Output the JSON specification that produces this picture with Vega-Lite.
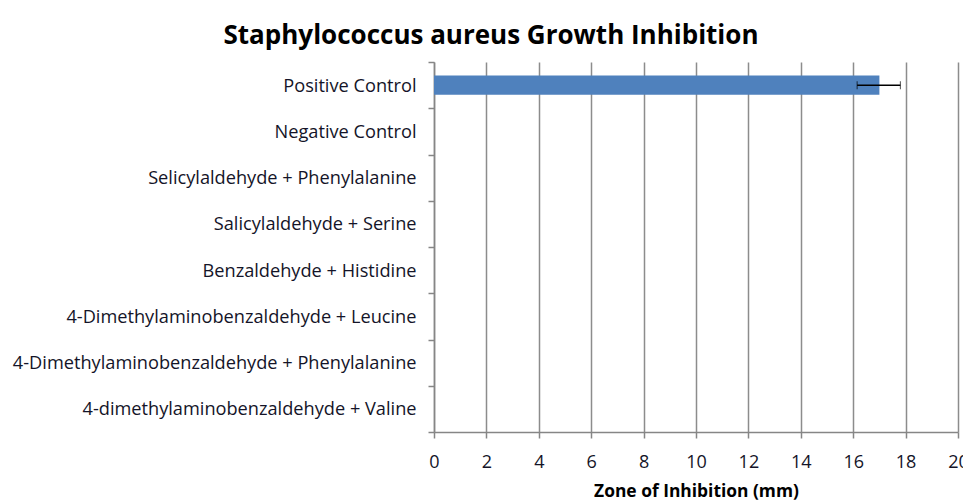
{
  "$schema": "https://vega.github.io/schema/vega-lite/v6.json",
  "autosize": "none",
  "width": 524,
  "height": 370,
  "padding": {"left": 434, "top": 62, "right": 5, "bottom": 69},
  "background": "white",
  "title": {
    "text": "Staphylococcus aureus Growth Inhibition",
    "fontSize": 26,
    "font": "Open Sans",
    "fontWeight": "bold",
    "color": "#000000",
    "anchor": "middle",
    "dx": -205,
    "offset": 3
  },
  "data": {
    "values": [
      {"compound": "Positive Control", "zone": 17, "lo": 16.15, "hi": 17.8},
      {"compound": "Negative Control", "zone": 0, "lo": null, "hi": null},
      {"compound": "Selicylaldehyde + Phenylalanine", "zone": 0, "lo": null, "hi": null},
      {"compound": "Salicylaldehyde + Serine", "zone": 0, "lo": null, "hi": null},
      {"compound": "Benzaldehyde + Histidine", "zone": 0, "lo": null, "hi": null},
      {"compound": "4-Dimethylaminobenzaldehyde + Leucine", "zone": 0, "lo": null, "hi": null},
      {"compound": "4-Dimethylaminobenzaldehyde + Phenylalanine", "zone": 0, "lo": null, "hi": null},
      {"compound": "4-dimethylaminobenzaldehyde + Valine", "zone": 0, "lo": null, "hi": null}
    ]
  },
  "encoding": {
    "y": {
      "field": "compound",
      "type": "nominal",
      "sort": null,
      "scale": {"paddingInner": 0, "paddingOuter": 0},
      "axis": {
        "title": null,
        "labelFont": "Open Sans",
        "labelFontSize": 18.2,
        "labelColor": "#141428",
        "labelPadding": 12,
        "labelLimit": 500,
        "labelOffset": 1,
        "tickBand": "extent",
        "tickSize": 6,
        "tickColor": "#868686",
        "domainColor": "#868686",
        "domainWidth": 1.5,
        "tickWidth": 1.5,
        "grid": false
      }
    }
  },
  "layer": [
    {
      "mark": {"type": "bar", "color": "#4F81BD", "height": {"band": 0.42}},
      "encoding": {
        "x": {
          "field": "zone",
          "type": "quantitative",
          "scale": {"domain": [0, 20], "nice": false},
          "axis": {
            "title": "Zone of Inhibition (mm)",
            "titleFont": "Open Sans",
            "titleFontSize": 17.4,
            "titleFontWeight": "bold",
            "titleColor": "#000000",
            "titlePadding": 11,
            "values": [0, 2, 4, 6, 8, 10, 12, 14, 16, 18, 20],
            "labelFont": "Open Sans",
            "labelFontSize": 18,
            "labelColor": "#141428",
            "labelPadding": 15,
            "labelOverlap": false,
            "labelFlush": false,
            "tickSize": 6,
            "tickColor": "#868686",
            "tickWidth": 1.5,
            "domainColor": "#868686",
            "domainWidth": 1.5,
            "grid": true,
            "gridColor": "#8C8C8C",
            "gridWidth": 1.5
          }
        }
      }
    },
    {
      "transform": [{"filter": "isValid(datum.lo)"}],
      "mark": {"type": "errorbar", "ticks": {"size": 8, "color": "#000000", "strokeWidth": 1.5}, "rule": {"color": "#000000", "strokeWidth": 1.5}},
      "encoding": {
        "x": {"field": "lo", "type": "quantitative", "title": "Zone of Inhibition (mm)"},
        "x2": {"field": "hi"}
      }
    }
  ],
  "config": {
    "view": {"stroke": null}
  }
}
